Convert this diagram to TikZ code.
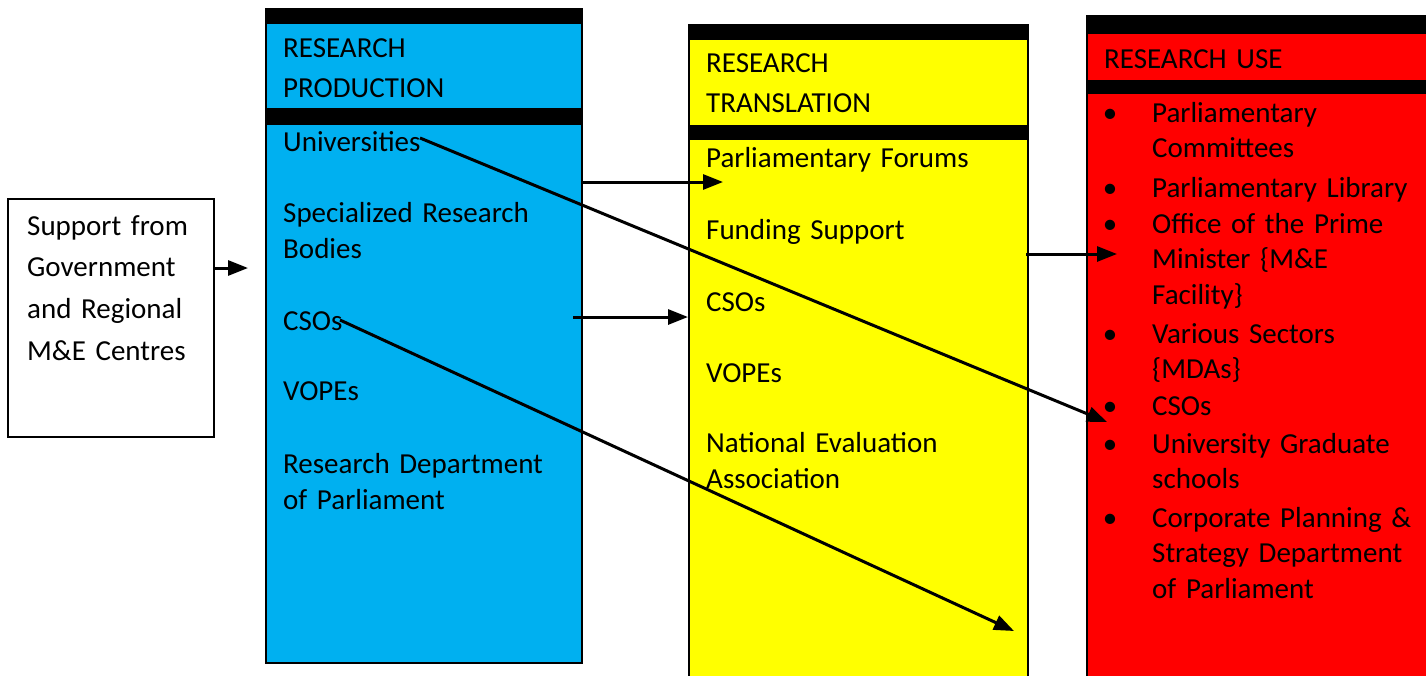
\documentclass[tikz,border=0pt]{standalone}
\usepackage{fontspec}
\setmainfont{Carlito}
\usetikzlibrary{arrows.meta}
\definecolor{prodblue}{HTML}{00B0F0}
\definecolor{transyellow}{HTML}{FFFF00}
\definecolor{usered}{HTML}{FF0000}
\newcommand{\usebul}{\llap{\makebox[0pt]{\textbullet}\hspace{42pt}}}
\tikzset{
  txt/.style={anchor=base west, inner sep=0pt, align=left, text width=#1,
    font=\fontsize{29}{36}\selectfont},
  txt/.default=290pt,
  head/.style={txt, font=\fontsize{29}{40}\selectfont},
  useitem/.style={txt=270pt, font=\fontsize{29}{35.5}\selectfont},
  bar/.style={fill=black},
  link/.style={line width=3pt, -{Triangle[length=20pt,width=15pt]}}
}
\begin{document}
\begin{tikzpicture}[x=1pt,y=-1pt]
\useasboundingbox (0,0) rectangle (1426,675);
\filldraw[fill=prodblue, line width=2pt] (266,9) rectangle (582,663);
\fill[bar] (265,8) rectangle (583,24);
\fill[bar] (265,108) rectangle (583,125);
\fill[transyellow] (689,25) rectangle (1028,676);
\draw[line width=2pt] (689,676) -- (689,25) -- (1028,25) -- (1028,676);
\fill[bar] (688,25) rectangle (1029,40);
\fill[bar] (688,125) rectangle (1029,140);
\fill[usered] (1087,16) rectangle (1427,676);
\draw[line width=2pt] (1087,676) -- (1087,16) -- (1427,16);
\fill[bar] (1086,16) rectangle (1427,34);
\fill[bar] (1086,80) rectangle (1427,94);
\node[draw, line width=2pt, minimum width=206pt, minimum height=238pt, anchor=north west] (support) at (7,198) {};
\node[txt=190pt, font=\fontsize{29}{41.7}\selectfont] (supporttxt) at (27,235) {Support from\\Government\\and Regional\\M\&E Centres};
\node[head] (prodhead) at (283,57) {RESEARCH\\PRODUCTION};
\node[txt] (univ) at (283,151) {Universities};
\node[txt] (bodies) at (283,222) {Specialized Research\\Bodies};
\node[txt] (prodcsos) at (283,330) {CSOs};
\node[txt] (prodvopes) at (283,400) {VOPEs};
\node[txt] (resdept) at (283,473) {Research Department\\of Parliament};
\node[head] (transhead) at (706,72) {RESEARCH\\TRANSLATION};
\node[txt=310pt] (forums) at (706,167) {Parliamentary Forums};
\node[txt=310pt] (funding) at (706,239) {Funding Support};
\node[txt=310pt] (transcsos) at (706,311) {CSOs};
\node[txt=310pt] (transvopes) at (706,382) {VOPEs};
\node[txt=310pt] (nea) at (706,452) {National Evaluation\\Association};
\node[head=320pt] (usehead) at (1104,68) {RESEARCH USE};
\node[useitem] (committees) at (1152,122) {\usebul Parliamentary\\Committees};
\node[useitem] (library) at (1152,197) {\usebul Parliamentary Library};
\node[useitem] (primemin) at (1152,233) {\usebul Office of the Prime\\Minister \{M\&E\\Facility\}};
\node[useitem] (sectors) at (1152,343) {\usebul Various Sectors\\\{MDAs\}};
\node[useitem] (usecsos) at (1152,415) {\usebul CSOs};
\node[useitem] (gradschools) at (1152,453) {\usebul University Graduate\\schools};
\node[useitem] (corporate) at (1152,527) {\usebul Corporate Planning \&\\Strategy Department\\of Parliament};
\coordinate (prodin) at (248,268);
\coordinate (prodout) at (582,182);
\coordinate (forumsin) at (723,182);
\coordinate (csosout) at (573,317);
\coordinate (transin) at (688,317);
\coordinate (transout) at (1026,254);
\coordinate (usein) at (1117,254);
\coordinate (univout) at (420,138);
\coordinate (usecsosin) at (1107,422);
\coordinate (prodcsosout) at (340,320);
\coordinate (transend) at (1014,631);
\draw[link] (support.east |- prodin) -- (prodin);
\draw[link] (prodout) -- (forumsin);
\draw[link] (csosout) -- (transin);
\draw[link] (transout) -- (usein);
\draw[link] (univout) -- (usecsosin);
\draw[link] (prodcsosout) -- (transend);
\end{tikzpicture}
\end{document}
